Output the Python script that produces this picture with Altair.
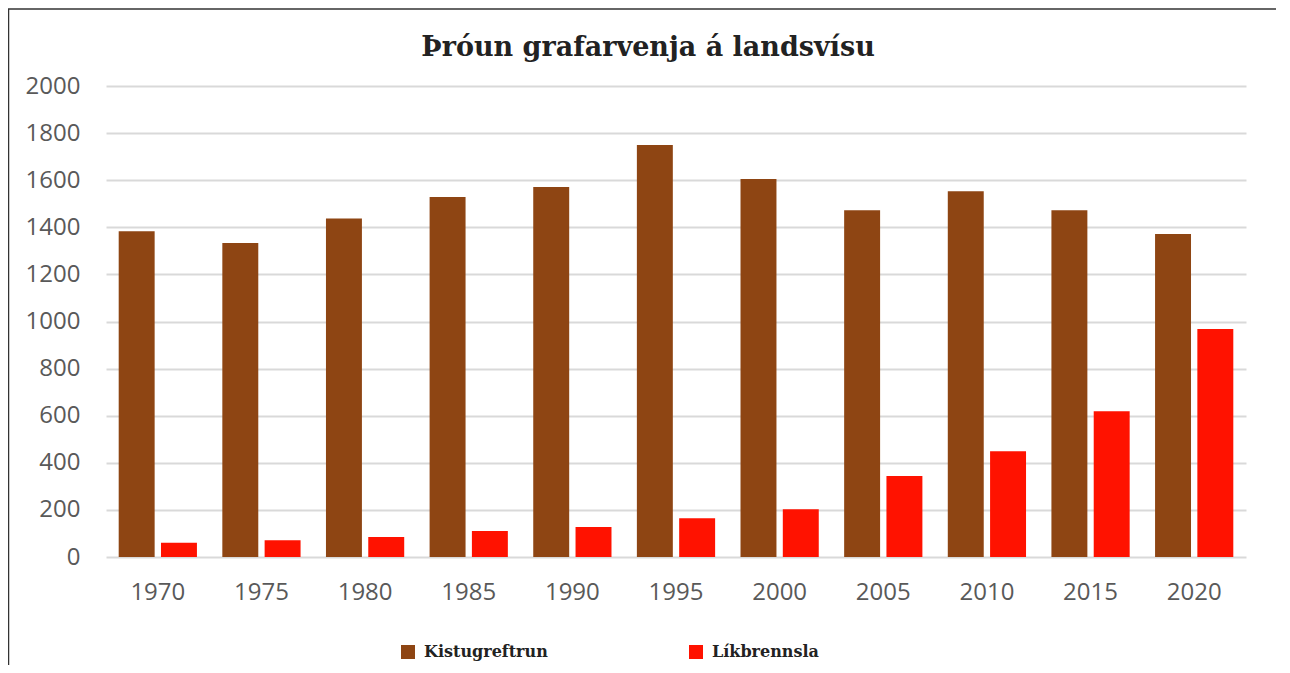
import altair as alt
import pandas as pd

years = ["1970", "1975", "1980", "1985", "1990", "1995", "2000", "2005", "2010", "2015", "2020"]
kistugreftrun = [1383, 1333, 1437, 1529, 1571, 1749, 1605, 1472, 1553, 1472, 1372]
likbrennsla = [61, 71, 85, 110, 127, 165, 203, 344, 449, 619, 968]
series = ["Kistugreftrun", "Líkbrennsla"]
colors = ["#8E4513", "#FF1200"]
y_ticks = [0, 200, 400, 600, 800, 1000, 1200, 1400, 1600, 1800, 2000]
title_text = ["Þróun grafarvenja á landsvísu"]

rows = []
for i, yr in enumerate(years):
    rows.append({"year": yr, "series": series[0], "value": kistugreftrun[i]})
    rows.append({"year": yr, "series": series[1], "value": likbrennsla[i]})
df = pd.DataFrame(rows)

W, H = 1140, 471
PAD = {"left": 98, "top": 78, "right": 30, "bottom": 108}

bars = alt.Chart(df).mark_bar().encode(
    x=alt.X("year:N", sort=years,
            scale=alt.Scale(paddingInner=0.245, paddingOuter=0.1225),
            axis=alt.Axis(title=None, labelAngle=0, ticks=False, domain=False, grid=False,
                          labelPadding=23, labelFontSize=24, labelColor="#595959",
                          labelFont="Open Sans")),
    xOffset=alt.XOffset("series:N", sort=series, scale=alt.Scale(paddingInner=0.15)),
    y=alt.Y("value:Q", scale=alt.Scale(domain=[0, 2000], nice=False),
            axis=alt.Axis(title=None, values=y_ticks, format="d", ticks=False, domain=False,
                          grid=True, gridColor="#D9D9D9", gridWidth=2,
                          labelPadding=26, labelFontSize=24, labelColor="#595959",
                          labelFont="Open Sans")),
    color=alt.Color("series:N", sort=series,
                    scale=alt.Scale(domain=series, range=colors),
                    legend=alt.Legend(title=None, orient="none", legendX=294, legendY=558,
                                      direction="horizontal", symbolType="square",
                                      symbolSize=196, symbolStrokeWidth=0,
                                      labelFont="DejaVu Serif", labelFontWeight="bold",
                                      labelFontSize=16, labelColor="#222222",
                                      labelOffset=8, columnPadding=140)),
)

title = alt.Chart(alt.Data(values=[{"t": t} for t in title_text])).mark_text(
    font="DejaVu Serif", fontWeight="bold", fontSize=27, color="#222222",
    align="center", baseline="alphabetic"
).encode(text="t:N", x=alt.value(542), y=alt.value(-30))

frame_top = alt.Chart(alt.Data(values=[{}])).mark_rule(color="#333333", strokeWidth=1.5).encode(
    x=alt.value(-98), x2=alt.value(W + PAD["right"]), y=alt.value(-77)
)
frame_left = alt.Chart(alt.Data(values=[{}])).mark_rule(color="#333333", strokeWidth=1.5).encode(
    x=alt.value(-97.5), y=alt.value(-77), y2=alt.value(H + PAD["bottom"])
)

chart = alt.layer(bars, title, frame_top, frame_left).properties(
    width=W, height=H,
    padding=PAD,
    autosize=alt.AutoSizeParams(type="none"),
    background="white",
).configure_view(stroke=None)

chart.save("out.html", embed_options={"renderer": "svg", "actions": False})
